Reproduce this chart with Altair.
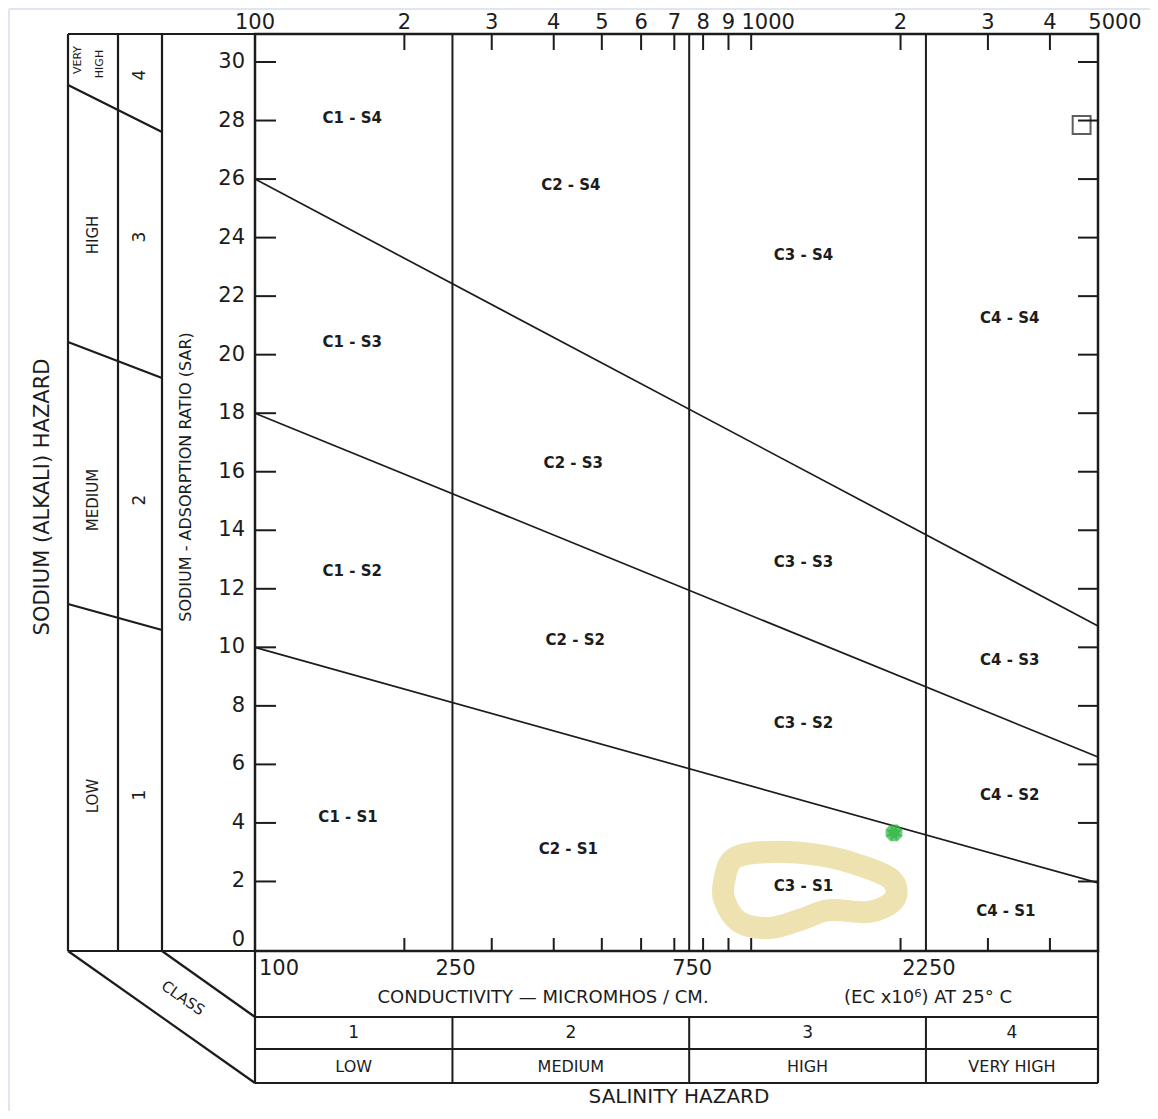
import math
import altair as alt
import pandas as pd

FONT = "DejaVu Sans"
INK = "#1c1c1c"

# ------------------------------------------------------------------ data
# left axis: sodium-adsorption ratio
sar_label_values = list(range(0, 31, 2))
sar_tick_values = list(range(2, 31, 2))

# conductivity (log) axis
ec_minor_ticks = [200, 300, 400, 500, 600, 700, 800, 900, 1000, 2000, 3000, 4000]
top_label_values = [100, 200, 300, 400, 500, 600, 700, 800, 900, 2000, 3000, 4000]
top_label_text = ["100", "2", "3", "4", "5", "6", "7", "8", "9", "2", "3", "4"]
top_end_values = [1000, 5000]
top_end_text = ["1000", "5000"]

# salinity classes
class_bounds = [100, 250, 750, 2250, 5000]
class_limits = [250, 750, 2250]
conductivity_text = ["250", "750", "2250"]
class_numbers = ["1", "2", "3", "4"]
class_names = ["LOW", "MEDIUM", "HIGH", "VERY HIGH"]

# sodium-hazard boundary lines (SAR at EC=100 and EC=5000)
boundary_names = ["S1/S2", "S2/S3", "S3/S4"]
boundary_ec = [100, 5000]
boundary_sar_start = [10.0, 18.0, 26.0]
boundary_sar_end = [1.95, 6.25, 10.73]

# region labels
region_text = ["C1 - S4", "C2 - S4", "C3 - S4", "C4 - S4",
               "C1 - S3", "C2 - S3", "C3 - S3", "C4 - S3",
               "C1 - S2", "C2 - S2", "C3 - S2", "C4 - S2",
               "C1 - S1", "C2 - S1", "C3 - S1", "C4 - S1"]
region_ec = [157, 433, 1275, 3320,
             157, 438, 1275, 3320,
             157, 442, 1275, 3320,
             154, 428, 1275, 3260]
region_sar = [28.1, 25.8, 23.4, 21.25,
              20.45, 16.3, 12.9, 9.57,
              12.6, 10.25, 7.4, 4.95,
              4.2, 3.1, 1.85, 1.0]

# sample point and marker
sample_ec = [1940]
sample_sar = [3.66]
marker_ec = [4634]
marker_sar = [27.85]

# hand-drawn highlight around C3-S1
ring_ec = [883, 925, 1087, 1370, 1650, 1922, 1940, 1728, 1435, 1249, 1087, 946, 883]
ring_sar = [2.05, 2.8, 3.01, 2.9, 2.56, 2.05, 1.37, 0.96, 1.02, 0.68, 0.41, 0.62, 1.37]

# ------------------------------------------------------------------ layout
W, H = 843, 917
x_scale = alt.Scale(type="log", domain=[100, 5000], nice=False)
y_scale = alt.Scale(domain=[-0.376, 30.957], nice=False, zero=False)

X = lambda f: alt.X(f, type="quantitative", scale=x_scale, axis=None)
Y = lambda f: alt.Y(f, type="quantitative", scale=y_scale, axis=None)

layers = []

# highlight ring
ring_df = pd.DataFrame({"ec": ring_ec, "sar": ring_sar, "o": list(range(len(ring_ec)))})
layers.append(
    alt.Chart(ring_df).mark_line(color="#eee2b0", strokeWidth=22, interpolate="cardinal-closed",
                                 strokeCap="round", strokeJoin="round")
    .encode(x=X("ec"), y=Y("sar"), order="o:Q")
)

# boundary lines
bl_rows = []
for n, s0, s1 in zip(boundary_names, boundary_sar_start, boundary_sar_end):
    bl_rows.append({"name": n, "ec": boundary_ec[0], "sar": s0})
    bl_rows.append({"name": n, "ec": boundary_ec[1], "sar": s1})
bl_df = pd.DataFrame(bl_rows)
layers.append(
    alt.Chart(bl_df).mark_line(color=INK, strokeWidth=1.7).encode(
        x=X("ec"), y=Y("sar"), detail="name:N")
)

# salinity class limits
cl_df = pd.DataFrame({"ec": class_limits})
layers.append(
    alt.Chart(cl_df).mark_rule(color=INK, strokeWidth=2).encode(
        x=X("ec"), y=alt.value(0), y2=alt.value(H))
)
# bottom table class separators
layers.append(
    alt.Chart(cl_df).mark_rule(color=INK, strokeWidth=2).encode(
        x=X("ec"), y=alt.value(983), y2=alt.value(1049))
)

# ticks (inward)
tk_df = pd.DataFrame({"ec": ec_minor_ticks})
layers.append(alt.Chart(tk_df).mark_rule(color=INK, strokeWidth=2).encode(
    x=X("ec"), y=alt.value(0), y2=alt.value(16)))
layers.append(alt.Chart(tk_df).mark_rule(color=INK, strokeWidth=2).encode(
    x=X("ec"), y=alt.value(H), y2=alt.value(H - 13)))
st_df = pd.DataFrame({"sar": sar_tick_values})
layers.append(alt.Chart(st_df).mark_rule(color=INK, strokeWidth=2).encode(
    y=Y("sar"), x=alt.value(0), x2=alt.value(21)))
layers.append(alt.Chart(st_df).mark_rule(color=INK, strokeWidth=2).encode(
    y=Y("sar"), x=alt.value(W), x2=alt.value(W - 20)))

# SAR labels
sl_df = pd.DataFrame({"sar": sar_label_values, "t": [str(v) for v in sar_label_values]})
layers.append(alt.Chart(sl_df).mark_text(font=FONT, fontSize=21, color=INK, align="right", dx=-1)
              .encode(y=Y("sar"), x=alt.value(-9), text="t:N"))

# frame drawing outside the plot (pixel offsets from plot origin)
frame = pd.DataFrame(
    [
        (-187, 0, 0, 0),
        (-187, 0, -187, H),
        (-137, 0, -137, H),
        (-93, 0, -93, H),
        (-187, H, 0, H),
        (-187, 51, -93, 98),
        (-187, 308, -93, 344),
        (-187, 570, -93, 596),
        (-187, H, 0, 1049),
        (-93, H, 0, 983),
        (0, H, 0, 1049),
        (W, H, W, 1049),
        (0, 983, W, 983),
        (0, 1015, W, 1015),
        (0, 1049, W, 1049),
    ],
    columns=["x1", "y1", "x2", "y2"],
)
layers.append(
    alt.Chart(frame).mark_rule(color=INK, strokeWidth=2.2).encode(
        x=alt.X("x1:Q", scale=None), y=alt.Y("y1:Q", scale=None), x2="x2:Q", y2="y2:Q")
)
edge = pd.DataFrame([(-246, -25, -246, 1080), (-246, -25, 900, -25)],
                    columns=["x1", "y1", "x2", "y2"])
layers.append(
    alt.Chart(edge).mark_rule(color="#dfe6f1", strokeWidth=2).encode(
        x=alt.X("x1:Q", scale=None), y=alt.Y("y1:Q", scale=None), x2="x2:Q", y2="y2:Q")
)

# region labels
rg_df = pd.DataFrame({"t": region_text, "ec": region_ec, "sar": region_sar})
layers.append(
    alt.Chart(rg_df).mark_text(font=FONT, fontSize=15, fontWeight="bold", color=INK)
    .encode(x=X("ec"), y=Y("sar"), text="t:N")
)

# top axis labels
tl_df = pd.DataFrame({"ec": top_label_values, "t": top_label_text})
layers.append(alt.Chart(tl_df).mark_text(font=FONT, fontSize=21, color=INK).encode(
    x=X("ec"), y=alt.value(-11), text="t:N"))
te_df = pd.DataFrame({"ec": top_end_values, "t": top_end_text})
layers.append(alt.Chart(te_df).mark_text(font=FONT, fontSize=21, color=INK, dx=17).encode(
    x=X("ec"), y=alt.value(-11), text="t:N"))

# conductivity row labels
layers.append(alt.Chart(pd.DataFrame({"ec": [class_bounds[0]], "t": ["100"]}))
              .mark_text(font=FONT, fontSize=21, color=INK, align="left", dx=4)
              .encode(x=X("ec"), y=alt.value(935), text="t:N"))
layers.append(alt.Chart(pd.DataFrame({"ec": class_limits, "t": conductivity_text}))
              .mark_text(font=FONT, fontSize=21, color=INK, dx=3)
              .encode(x=X("ec"), y=alt.value(935), text="t:N"))
layers.append(alt.Chart(pd.DataFrame({"t": ["CONDUCTIVITY — MICROMHOS / CM."]}))
              .mark_text(font=FONT, fontSize=18, color=INK)
              .encode(x=alt.value(288), y=alt.value(964), text="t:N"))
layers.append(alt.Chart(pd.DataFrame({"t": ["(EC x10⁶) AT 25° C"]}))
              .mark_text(font=FONT, fontSize=18, color=INK)
              .encode(x=alt.value(673), y=alt.value(964), text="t:N"))

# class rows
centers = [math.sqrt(a * b) for a, b in zip(class_bounds[:-1], class_bounds[1:])]
layers.append(alt.Chart(pd.DataFrame({"ec": centers, "t": class_numbers}))
              .mark_text(font=FONT, fontSize=17, color=INK)
              .encode(x=X("ec"), y=alt.value(999), text="t:N"))
layers.append(alt.Chart(pd.DataFrame({"ec": centers, "t": class_names}))
              .mark_text(font=FONT, fontSize=16, color=INK)
              .encode(x=X("ec"), y=alt.value(1033), text="t:N"))
layers.append(alt.Chart(pd.DataFrame({"t": ["SALINITY HAZARD"]}))
              .mark_text(font=FONT, fontSize=20, color=INK)
              .encode(x=alt.value(424), y=alt.value(1063), text="t:N"))

# left panel texts (rotated)
rot = pd.DataFrame(
    [
        ("SODIUM (ALKALI) HAZARD", -212, 463, 21),
        ("SODIUM - ADSORPTION RATIO (SAR)", -69, 443, 16),
    ],
    columns=["t", "x", "y", "s"],
)
for _, r in rot.iterrows():
    layers.append(alt.Chart(pd.DataFrame({"t": [r.t]}))
                  .mark_text(font=FONT, fontSize=int(r.s), color=INK, angle=270)
                  .encode(x=alt.value(int(r.x)), y=alt.value(int(r.y)), text="t:N"))

hz_df = pd.DataFrame({"t": ["HIGH", "MEDIUM", "LOW"], "x": [-162] * 3, "y": [201, 466, 762]})
layers.append(alt.Chart(hz_df).mark_text(font=FONT, fontSize=15, color=INK, angle=270)
              .encode(x=alt.X("x:Q", scale=None), y=alt.Y("y:Q", scale=None), text="t:N"))
vh_df = pd.DataFrame({"t": ["VERY", "HIGH"], "x": [-177, -155], "y": [26, 30]})
layers.append(alt.Chart(vh_df).mark_text(font=FONT, fontSize=11, color=INK, angle=270)
              .encode(x=alt.X("x:Q", scale=None), y=alt.Y("y:Q", scale=None), text="t:N"))
sn_df = pd.DataFrame({"t": ["4", "3", "2", "1"], "x": [-115] * 4, "y": [41, 203, 466, 761]})
layers.append(alt.Chart(sn_df).mark_text(font=FONT, fontSize=17, color=INK, angle=270)
              .encode(x=alt.X("x:Q", scale=None), y=alt.Y("y:Q", scale=None), text="t:N"))
layers.append(alt.Chart(pd.DataFrame({"t": ["CLASS"]}))
              .mark_text(font=FONT, fontSize=15, color=INK, angle=35)
              .encode(x=alt.value(-72), y=alt.value(964), text="t:N"))

# sample point and marker
sp_df = pd.DataFrame({"ec": sample_ec, "sar": sample_sar})
layers.append(alt.Chart(sp_df).mark_point(shape="cross", filled=True, color="#2db342", size=280)
              .encode(x=X("ec"), y=Y("sar")))
layers.append(alt.Chart(sp_df).mark_point(shape="cross", filled=True, color="#2db342", size=280, angle=45)
              .encode(x=X("ec"), y=Y("sar")))
mk_df = pd.DataFrame({"ec": marker_ec, "sar": marker_sar})
layers.append(alt.Chart(mk_df).mark_point(shape="square", filled=False, color=INK, size=320, strokeWidth=2)
              .encode(x=X("ec"), y=Y("sar")))

chart = (
    alt.layer(*layers)
    .properties(width=W, height=H, autosize="none",
                padding={"left": 247, "top": 26, "right": 52, "bottom": 160})
    .configure_view(stroke=INK, strokeWidth=2.5)
)

chart.save("out.html", embed_options={"renderer": "svg", "actions": False})
